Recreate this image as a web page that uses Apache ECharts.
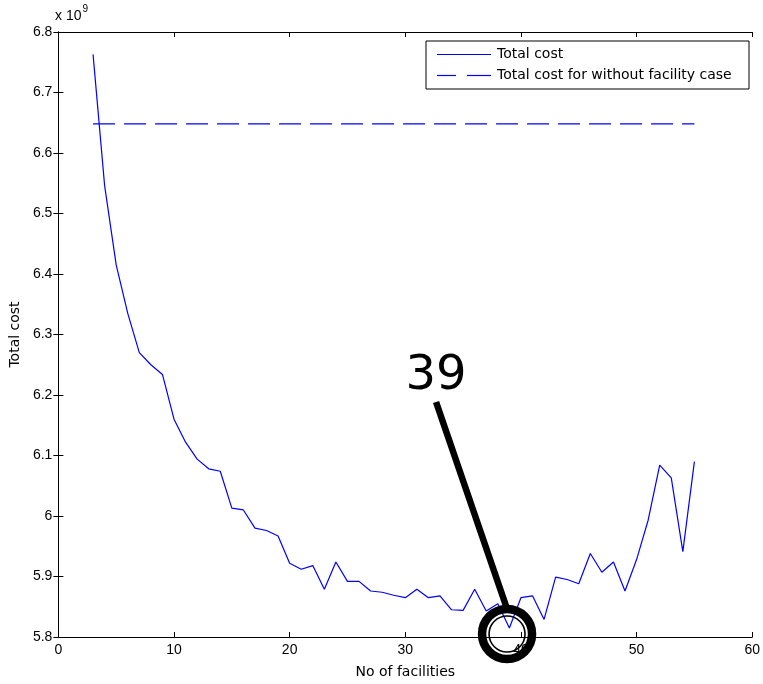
<!DOCTYPE html>
<html>
<head>
<meta charset="utf-8">
<script src="https://cdn.jsdelivr.net/npm/echarts@6/dist/echarts.min.js"></script>
<style>
html,body{margin:0;padding:0;background:#fff;}
#chart{width:763px;height:684px;}
</style>
</head>
<body>
<div id="chart"></div>
<script>
// Number of facilities
var facilities = [3,4,5,6,7,8,9,10,11,12,13,14,15,16,17,18,19,20,21,22,23,24,25,26,27,28,29,30,31,32,33,34,35,36,37,38,39,40,41,42,43,44,45,46,47,48,49,50,51,52,53,54,55];
// Total cost (x 10^9)
var totalCost = [6.763,6.546,6.415,6.335,6.270,6.250,6.234,6.160,6.122,6.094,6.078,6.074,6.013,6.010,5.980,5.976,5.967,5.922,5.912,5.918,5.879,5.924,5.892,5.892,5.876,5.874,5.869,5.865,5.879,5.865,5.868,5.845,5.844,5.879,5.843,5.855,5.815,5.865,5.868,5.829,5.899,5.895,5.888,5.938,5.907,5.924,5.876,5.928,5.993,6.084,6.063,5.941,6.090];
// Without-facility case (x 10^9)
var noFacilityX = [3, 55];
var noFacilityCost = [6.648, 6.648];
var xTicks = [0,10,20,30,40,50,60];
var yTicks = [5.8,5.9,6,6.1,6.2,6.3,6.4,6.5,6.6,6.7,6.8];
var seriesNames = ['Total cost', 'Total cost for without facility case'];
var annotationText = '39';
var annotationPoint = [38.8, 5.805];

var tickFont = {fontFamily:'Liberation Sans', fontSize:14, color:'#000'};
var nameFont = {fontFamily:'DejaVu Sans', fontSize:14, color:'#000'};
var blue = '#0000ff';
var dash = [22,9];

var chart = echarts.init(document.getElementById('chart'), null, {renderer:'canvas'});

function pairs(xs, ys){ return xs.map(function(x,i){return [x, ys[i]];}); }

var axisLineStyle = {show:true, lineStyle:{color:'#000', width:1}};
var tickStyle = {show:true, inside:true, length:5, lineStyle:{color:'#000', width:1}};

var option = {
  animation:false,
  backgroundColor:'#fff',
  grid:{left:58, top:32, width:698, height:609, containLabel:false},
  xAxis:[{
    type:'value', min:xTicks[0], max:xTicks[xTicks.length-1], interval:10,
    position:'bottom',
    axisLine:axisLineStyle, axisTick:tickStyle,
    axisLabel:Object.assign({margin:6}, tickFont),
    splitLine:{show:false},
    name:'No of facilities', nameLocation:'middle', nameGap:28,
    nameTextStyle:nameFont
  },{
    type:'value', min:xTicks[0], max:xTicks[xTicks.length-1], interval:10,
    position:'top',
    axisLine:axisLineStyle, axisTick:tickStyle,
    axisLabel:{show:false}, splitLine:{show:false}
  }],
  yAxis:[{
    type:'value', min:yTicks[0], max:yTicks[yTicks.length-1], interval:0.1,
    position:'left',
    axisLine:axisLineStyle, axisTick:tickStyle,
    axisLabel:Object.assign({margin:6, formatter:function(v){
      var r = Math.round(v*10)/10; return (Math.abs(r-Math.round(r))<1e-9)? String(Math.round(r)) : r.toFixed(1);
    }}, tickFont),
    splitLine:{show:false},
    name:'Total cost', nameLocation:'middle', nameGap:29,
    nameTextStyle:nameFont
  },{
    type:'value', min:yTicks[0], max:yTicks[yTicks.length-1], interval:0.1,
    position:'right',
    axisLine:axisLineStyle, axisTick:tickStyle,
    axisLabel:{show:false}, splitLine:{show:false}
  }],
  series:[{
    name:seriesNames[0], type:'line', data:pairs(facilities,totalCost),
    showSymbol:false, symbol:'none', color:blue,
    lineStyle:{color:blue, width:1.2}, z:3
  },{
    name:seriesNames[1], type:'line', data:pairs(noFacilityX,noFacilityCost),
    showSymbol:false, symbol:'none', color:blue,
    lineStyle:{color:blue, width:1.2, type:dash}, z:3
  }]
};
chart.setOption(option);

var c = chart.convertToPixel({gridIndex:0}, annotationPoint);
var legendX = 437, legendY = 54, legendRow = 21;
chart.setOption({
  graphic:[
    {type:'text', left:55, top:4, style:{
      text:'{a|x 10}{b|9}', rich:{
        a:{fontFamily:'Liberation Sans', fontSize:14, fill:'#000', padding:[8,0,0,0]},
        b:{fontFamily:'Liberation Sans', fontSize:10, fill:'#000', padding:[0,0,6,1]}
      }}},
    {type:'rect', z:5, shape:{x:426, y:41, width:323, height:48}, style:{fill:'#fff', stroke:'#000', lineWidth:1}},
    {type:'line', z:6, shape:{x1:legendX, y1:legendY+0.5, x2:legendX+54, y2:legendY+0.5}, style:{stroke:blue, lineWidth:1.2}},
    {type:'text', z:6, style:{x:legendX+60, y:legendY, text:seriesNames[0], fill:'#000', fontFamily:'DejaVu Sans', fontSize:14, textVerticalAlign:'middle'}},
    {type:'line', z:6, shape:{x1:legendX, y1:legendY+legendRow+0.5, x2:legendX+19, y2:legendY+legendRow+0.5}, style:{stroke:blue, lineWidth:1.2}},
    {type:'line', z:6, shape:{x1:legendX+30, y1:legendY+legendRow+0.5, x2:legendX+54, y2:legendY+legendRow+0.5}, style:{stroke:blue, lineWidth:1.2}},
    {type:'text', z:6, style:{x:legendX+60, y:legendY+legendRow, text:seriesNames[1], fill:'#000', fontFamily:'DejaVu Sans', fontSize:14, textVerticalAlign:'middle'}},
    {type:'text', z:10, style:{x:c[0]-71, y:c[1]-233, text:annotationText, fill:'#000',
      fontFamily:'DejaVu Sans', fontSize:48, textAlign:'center', textVerticalAlign:'bottom'}},
    {type:'line', z:10, shape:{x1:c[0]-71, y1:c[1]-232, x2:c[0]-1, y2:c[1]-28},
      style:{stroke:'#000', lineWidth:6.5}},
    {type:'circle', z:10, shape:{cx:c[0], cy:c[1], r:25}, style:{fill:'none', stroke:'#000', lineWidth:8.5}},
    {type:'circle', z:10, shape:{cx:c[0], cy:c[1], r:18}, style:{fill:'none', stroke:'#000', lineWidth:1.6}}
  ]
});
</script>
</body>
</html>
